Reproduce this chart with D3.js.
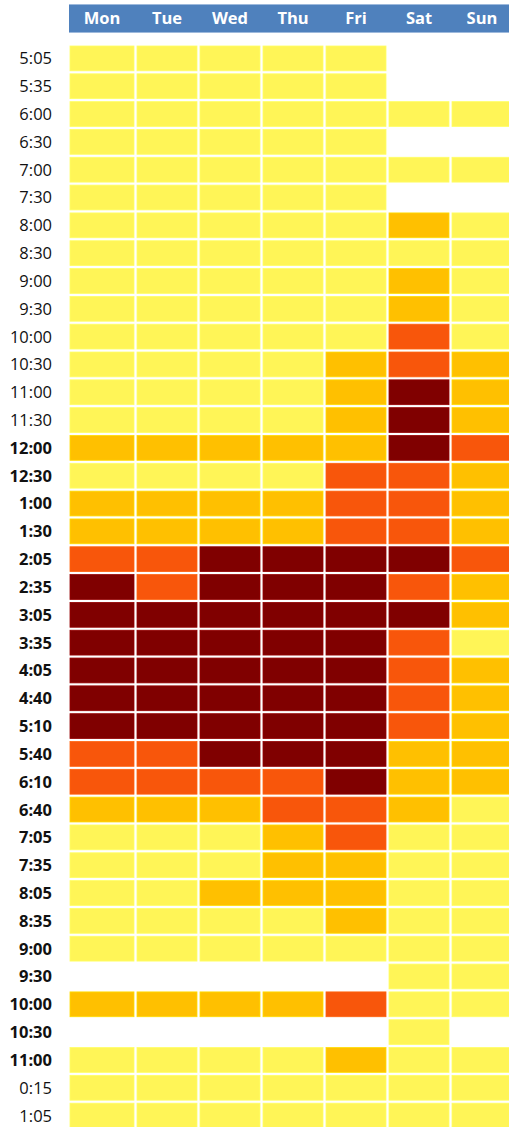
<!DOCTYPE html>
<html>
<head>
<meta charset="utf-8">
<script src="https://cdn.jsdelivr.net/npm/d3@7"></script>
<style>
  html, body { margin: 0; padding: 0; background: #fff; overflow: hidden; }
  svg { display: block; }
</style>
</head>
<body>
<svg id="chart" width="509" height="1127"></svg>
<script>
// Days (columns)
const days = ["Mon", "Tue", "Wed", "Thu", "Fri", "Sat", "Sun"];
// Time slots (rows)
const times = ["5:05","5:35","6:00","6:30","7:00","7:30","8:00","8:30","9:00","9:30",
  "10:00","10:30","11:00","11:30","12:00","12:30","1:00","1:30","2:05","2:35",
  "3:05","3:35","4:05","4:40","5:10","5:40","6:10","6:40","7:05","7:35",
  "8:05","8:35","9:00","9:30","10:00","10:30","11:00","0:15","1:05"];
// Which row labels are bold (afternoon/evening slots)
const boldLabels = [0,0,0,0,0,0,0,0,0,0,0,0,0,0,1,1,1,1,1,1,1,1,1,1,1,1,1,1,1,1,1,1,1,1,1,1,1,0,0];
// Crowding level per day, per time slot (0 = no service, 1 = low ... 4 = very high)
const mon = [1,1,1,1,1,1,1,1,1,1,1,1,1,1,2,1,2,2,3,4,4,4,4,4,4,3,3,2,1,1,1,1,1,0,2,0,1,1,1];
const tue = [1,1,1,1,1,1,1,1,1,1,1,1,1,1,2,1,2,2,3,3,4,4,4,4,4,3,3,2,1,1,1,1,1,0,2,0,1,1,1];
const wed = [1,1,1,1,1,1,1,1,1,1,1,1,1,1,2,1,2,2,4,4,4,4,4,4,4,4,3,2,1,1,2,1,1,0,2,0,1,1,1];
const thu = [1,1,1,1,1,1,1,1,1,1,1,1,1,1,2,1,2,2,4,4,4,4,4,4,4,4,3,3,2,2,2,1,1,0,2,0,1,1,1];
const fri = [1,1,1,1,1,1,1,1,1,1,1,2,2,2,2,3,3,3,4,4,4,4,4,4,4,4,4,3,3,2,2,2,1,0,3,0,2,1,1];
const sat = [0,0,1,0,1,0,2,1,2,2,3,3,4,4,4,3,3,3,4,3,4,3,3,3,3,2,2,2,1,1,1,1,1,1,1,1,1,1,1];
const sun = [0,0,1,0,1,0,1,1,1,1,1,2,2,2,3,2,2,2,3,2,2,1,2,2,2,2,2,1,1,1,1,1,1,1,1,0,1,1,1];
const levels = [1, 2, 3, 4];
const levelColors = ["#FFF557", "#FFC000", "#F8560B", "#800000"];

const series = [mon, tue, wed, thu, fri, sat, sun];
const cells = [];
days.forEach((d, di) => {
  series[di].forEach((v, ti) => {
    if (v > 0) cells.push({ day: d, ti: ti, value: v });
  });
});

const svg = d3.select("#chart");
const font = "'Open Sans', 'Liberation Sans', sans-serif";

const x = d3.scaleBand().domain(days).range([74, 512]).paddingInner(3 / 63).paddingOuter(0);
const y = d3.scaleBand().domain(d3.range(times.length)).range([46, 1128]).paddingInner(0.108).paddingOuter(0);
const color = d3.scaleOrdinal().domain(levels).range(levelColors);

// Header bar
svg.append("rect")
  .attr("x", 69).attr("y", 4).attr("width", 440).attr("height", 28)
  .attr("fill", "#4F81BD");
svg.append("line").attr("x1", 69).attr("x2", 509).attr("y1", 32.5).attr("y2", 32.5)
  .attr("stroke", "#9DB9DC").attr("stroke-width", 1);
svg.append("line").attr("x1", 69).attr("x2", 509).attr("y1", 4.5).attr("y2", 4.5)
  .attr("stroke", "#9DB9DC").attr("stroke-width", 1);

svg.append("g").selectAll("text").data(days).join("text")
  .attr("x", d => x(d) + x.bandwidth() / 2 - (d === "Mon" ? 2 : 0))
  .attr("y", 18.5)
  .attr("dy", "0.36em")
  .attr("text-anchor", "middle")
  .attr("fill", "#fff")
  .attr("font-family", font)
  .attr("font-weight", "bold")
  .attr("font-size", "16.5px")
  .text(d => d);

// Row labels
svg.append("g").selectAll("text").data(times).join("text")
  .attr("x", 52)
  .attr("y", (t, i) => y(i) + y.bandwidth() / 2)
  .attr("dy", "0.36em")
  .attr("text-anchor", "end")
  .attr("fill", "#111")
  .attr("font-family", font)
  .attr("font-weight", (t, i) => boldLabels[i] ? "bold" : "normal")
  .attr("font-size", "16.5px")
  .text(t => t);

// Cells
svg.append("g").selectAll("rect").data(cells).join("rect")
  .attr("x", d => d.day === "Mon" ? x(d.day) - 4 : x(d.day))
  .attr("y", d => y(d.ti))
  .attr("width", d => d.day === "Mon" ? x.bandwidth() + 4 : x.bandwidth())
  .attr("height", y.bandwidth())
  .attr("fill", d => color(d.value))
  .attr("stroke", d => d3.color(color(d.value)).brighter(0.4))
  .attr("stroke-width", 0.8);
</script>
</body>
</html>
